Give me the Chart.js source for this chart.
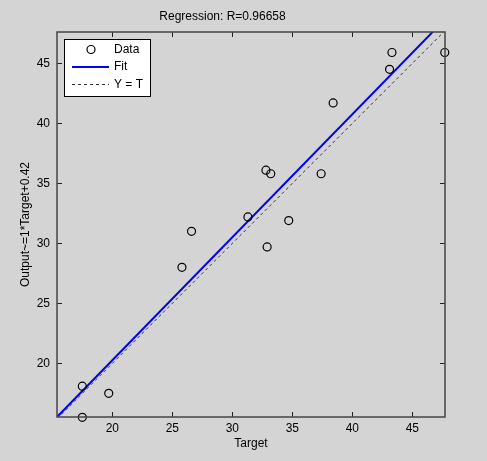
<!DOCTYPE html>
<html lang="en">
<head>
  <meta charset="UTF-8" />
  <title>Regression</title>
  <script src="https://cdn.jsdelivr.net/npm/chart.js"></script>
  <style>
    body { margin: 0; background: #d4d4d4; }
    canvas { display: block; }
  </style>
</head>
<body>
  <canvas id="regChart" width="487" height="461"></canvas>

  <script>
    // values
    const targets = [17.5, 17.5, 19.7, 25.8, 26.6, 31.3, 32.8, 33.2, 32.9, 34.7, 37.4, 38.4, 43.1, 43.3, 47.7];
    const outputs = [18.1, 15.5, 17.5, 28.0, 31.0, 32.2, 36.1, 35.8, 29.7, 31.9, 35.8, 41.7, 44.5, 45.9, 45.9];
    const fitX = [15.39, 47.72];
    const fitY = [15.53, 48.67];
    const identX = [15.39, 47.72];
    const identY = [15.39, 47.72];
    const xTicks = [20, 25, 30, 35, 40, 45];
    const yTicks = [20, 25, 30, 35, 40, 45];
    const xRange = [15.39, 47.72];
    const yRange = [15.53, 47.61];

    const FONT = 'Arial, "Liberation Sans", sans-serif';
    const toPoints = (xs, ys) => xs.map((x, i) => ({ x: x, y: ys[i] }));

    // box, inward ticks and legend like the matlab figure
    const matlabAxes = {
      id: 'matlabAxes',
      afterDraw(chart) {
        const ctx = chart.ctx;
        const a = chart.chartArea;
        const xs = chart.scales.x, ys = chart.scales.y;
        ctx.save();
        ctx.strokeStyle = '#222';
        ctx.lineWidth = 1;
        xTicks.forEach(v => {
          const px = Math.round(xs.getPixelForValue(v)) + 0.5;
          ctx.beginPath();
          ctx.moveTo(px, a.bottom); ctx.lineTo(px, a.bottom - 5);
          ctx.moveTo(px, a.top); ctx.lineTo(px, a.top + 5);
          ctx.stroke();
        });
        yTicks.forEach(v => {
          const py = Math.round(ys.getPixelForValue(v)) + 0.5;
          ctx.beginPath();
          ctx.moveTo(a.left, py); ctx.lineTo(a.left + 5, py);
          ctx.moveTo(a.right, py); ctx.lineTo(a.right - 5, py);
          ctx.stroke();
        });
        ctx.strokeStyle = '#444';
        ctx.lineWidth = 1.5;
        ctx.strokeRect(a.left, a.top, a.right - a.left, a.bottom - a.top);

        // legend box
        const lx = a.left + 7, ly = a.top + 7, lw = 86, lh = 57;
        ctx.fillStyle = '#fff';
        ctx.fillRect(lx, ly, lw, lh);
        ctx.strokeStyle = '#000';
        ctx.lineWidth = 1;
        ctx.strokeRect(lx + 0.5, ly + 0.5, lw, lh);
        ctx.font = '12px ' + FONT;
        ctx.textBaseline = 'middle';
        chart.data.datasets.forEach((ds, i) => {
          const cy = ly + 10.5 + i * 17.5;
          ctx.setLineDash(ds.borderDash || []);
          ctx.strokeStyle = ds.borderColor;
          ctx.lineWidth = ds.borderWidth;
          ctx.beginPath();
          if (ds.showLine === false) {
            ctx.arc(lx + 27, cy, ds.pointRadius, 0, Math.PI * 2);
          } else {
            ctx.moveTo(lx + 8, cy); ctx.lineTo(lx + 45, cy);
          }
          ctx.stroke();
          ctx.setLineDash([]);
          ctx.fillStyle = '#000';
          ctx.fillText(ds.label, lx + 50, cy);
        });
        ctx.restore();
      }
    };

    new Chart(document.getElementById('regChart'), {
      type: 'scatter',
      data: {
        datasets: [
          {
            label: 'Data',
            data: toPoints(targets, outputs),
            showLine: false,
            pointStyle: 'circle',
            pointRadius: 4,
            pointBorderWidth: 1.2,
            borderWidth: 1.2,
            borderColor: '#000',
            backgroundColor: 'rgba(0,0,0,0)',
            clip: false,
            order: 0
          },
          {
            label: 'Fit',
            data: toPoints(fitX, fitY),
            showLine: true,
            pointRadius: 0,
            borderColor: '#0000ff',
            borderWidth: 2,
            order: 1
          },
          {
            label: 'Y = T',
            data: toPoints(identX, identY),
            showLine: true,
            pointRadius: 0,
            borderColor: '#333',
            borderWidth: 1,
            borderDash: [3, 3],
            order: 2
          }
        ]
      },
      options: {
        responsive: false,
        animation: false,
        events: [],
        layout: { padding: { left: 0, right: 42, top: 0, bottom: 0 } },
        plugins: {
          legend: { display: false },
          tooltip: { enabled: false },
          title: {
            display: true,
            text: 'Regression: R=0.96658',
            color: '#000',
            font: { family: FONT, size: 12, weight: 'normal', lineHeight: 1.2 },
            padding: { top: 9.3, bottom: 8.3 }
          }
        },
        scales: {
          x: {
            type: 'linear',
            min: xRange[0],
            max: xRange[1],
            afterBuildTicks: s => { s.ticks = xTicks.map(v => ({ value: v })); },
            afterFit: s => { s.height = 44; },
            grid: { display: false, drawTicks: false, tickLength: 0 },
            border: { display: false },
            ticks: { color: '#000', padding: 4, font: { family: FONT, size: 12 } },
            title: {
              display: true,
              text: 'Target',
              color: '#000',
              font: { family: FONT, size: 12 },
              padding: { top: 0, bottom: 10.3 }
            }
          },
          y: {
            type: 'linear',
            min: yRange[0],
            max: yRange[1],
            afterBuildTicks: s => { s.ticks = yTicks.map(v => ({ value: v })); },
            afterFit: s => { s.width = 57; },
            grid: { display: false, drawTicks: false, tickLength: 0 },
            border: { display: false },
            ticks: { color: '#000', padding: 7, font: { family: FONT, size: 12 } },
            title: {
              display: true,
              text: 'Output~=1*Target+0.42',
              color: '#000',
              font: { family: FONT, size: 12 },
              padding: { top: 18.5, bottom: 0 }
            }
          }
        }
      },
      plugins: [matlabAxes]
    });
  </script>
</body>
</html>
